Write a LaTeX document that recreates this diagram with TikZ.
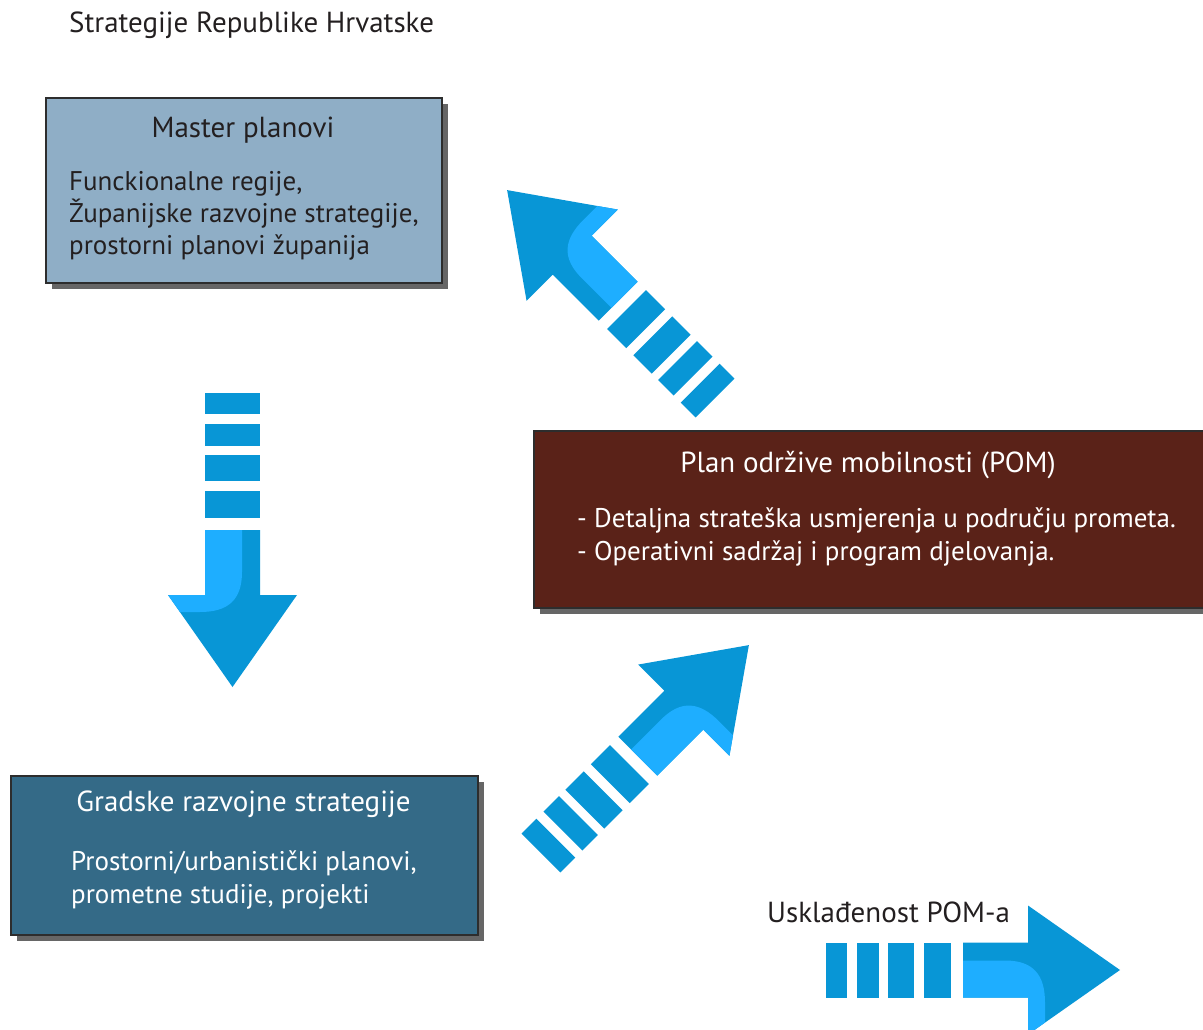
\documentclass[tikz,border=0pt]{standalone}
\usepackage{fontspec}
\setmainfont{PT Sans}
\usetikzlibrary{shadows}

\definecolor{masterfill}{RGB}{143,174,198}
\definecolor{pomfill}{RGB}{90,34,24}
\definecolor{cityfill}{RGB}{52,106,135}
\definecolor{boxline}{RGB}{45,45,45}
\definecolor{arrowdark}{RGB}{8,150,214}
\definecolor{arrowlight}{RGB}{30,174,255}
\definecolor{textdark}{RGB}{35,31,32}

% striped arrow, tail at the origin, pointing along x
\tikzset{pics/stripearrow/.style={code={
  \foreach \a/\b in {0/21,31/53,62/88,98/125}
    \fill[arrowdark] (\a,-27.5) rectangle (\b,27.5);
  \fill[arrowdark] (137,-27.5) -- (202,-27.5) -- (202,-64.5) -- (294,0)
    -- (202,64.5) -- (202,27.5) -- (137,27.5) -- cycle;
  \fill[arrowlight] (137,-9.5) -- (179,-9.5) .. controls (207,-9.5) and (219,4.5) .. (219,32.5)
    -- (219,52.5) -- (202,64.5) -- (202,27.5) -- (137,27.5) -- cycle;
}}}

\begin{document}
\begin{tikzpicture}[x=1pt, y=-1pt,
    planbox/.style={draw=boxline, line width=2pt, rectangle, anchor=north west, inner sep=0pt,
      drop shadow={shadow xshift=6pt, shadow yshift=-6pt, fill=black!75, opacity=.8}},
    headtext/.style={font=\fontsize{29}{32}\selectfont, inner sep=0pt, anchor=base},
    bodytext/.style={font=\fontsize{27}{32.3}\selectfont, inner sep=0pt, align=left, anchor=north west}]
  \useasboundingbox (0,0) rectangle (1203,1030);
  \clip (0,0) rectangle (1203,1030);

  \node[inner sep=0pt, anchor=base west, text=textdark, font=\fontsize{29}{32}\selectfont]
    (strategy) at (69,33) {Strategije Republike Hrvatske};

  % boxes
  \node[planbox, fill=masterfill, minimum width=396pt, minimum height=185pt] (master) at (45,97) {};
  \node[planbox, fill=pomfill, minimum width=690pt, minimum height=177pt] (pom) at (533,430) {};
  \node[planbox, fill=cityfill, minimum width=467pt, minimum height=159pt] (city) at (10,775) {};

  % box texts
  \node[headtext, text=textdark] (mastertitle) at (243,138) {Master planovi};
  \node[bodytext, text=textdark] (masterbody) at (69,171)
    {Funckionalne regije,\\Županijske razvojne strategije,\\prostorni planovi županija};
  \node[headtext, text=white] (pomtitle) at (868,472) {Plan održive mobilnosti (POM)};
  \node[bodytext, text=white] (pombody) at (577,508)
    {- Detaljna strateška usmjerenja u području prometa.\\- Operativni sadržaj i program djelovanja.};
  \node[headtext, text=white] (citytitle) at (243.5,811) {Gradske razvojne strategije};
  \node[bodytext, text=white] (citybody) at (71,851)
    {Prostorni/urbanistički planovi,\\prometne studije, projekti};

  % arrows
  \pic[rotate=-90] (down) at (232.5,393) {stripearrow};
  \pic[rotate=135] (upleft) at (715,398) {stripearrow};
  \pic[rotate=45] (upright) at (541,853) {stripearrow};
  \pic (right) at (826,970) {stripearrow};

  \node[inner sep=0pt, anchor=base west, text=textdark, font=\fontsize{29}{32}\selectfont]
    (align) at (767,922) {Usklađenost POM-a};
\end{tikzpicture}
\end{document}
